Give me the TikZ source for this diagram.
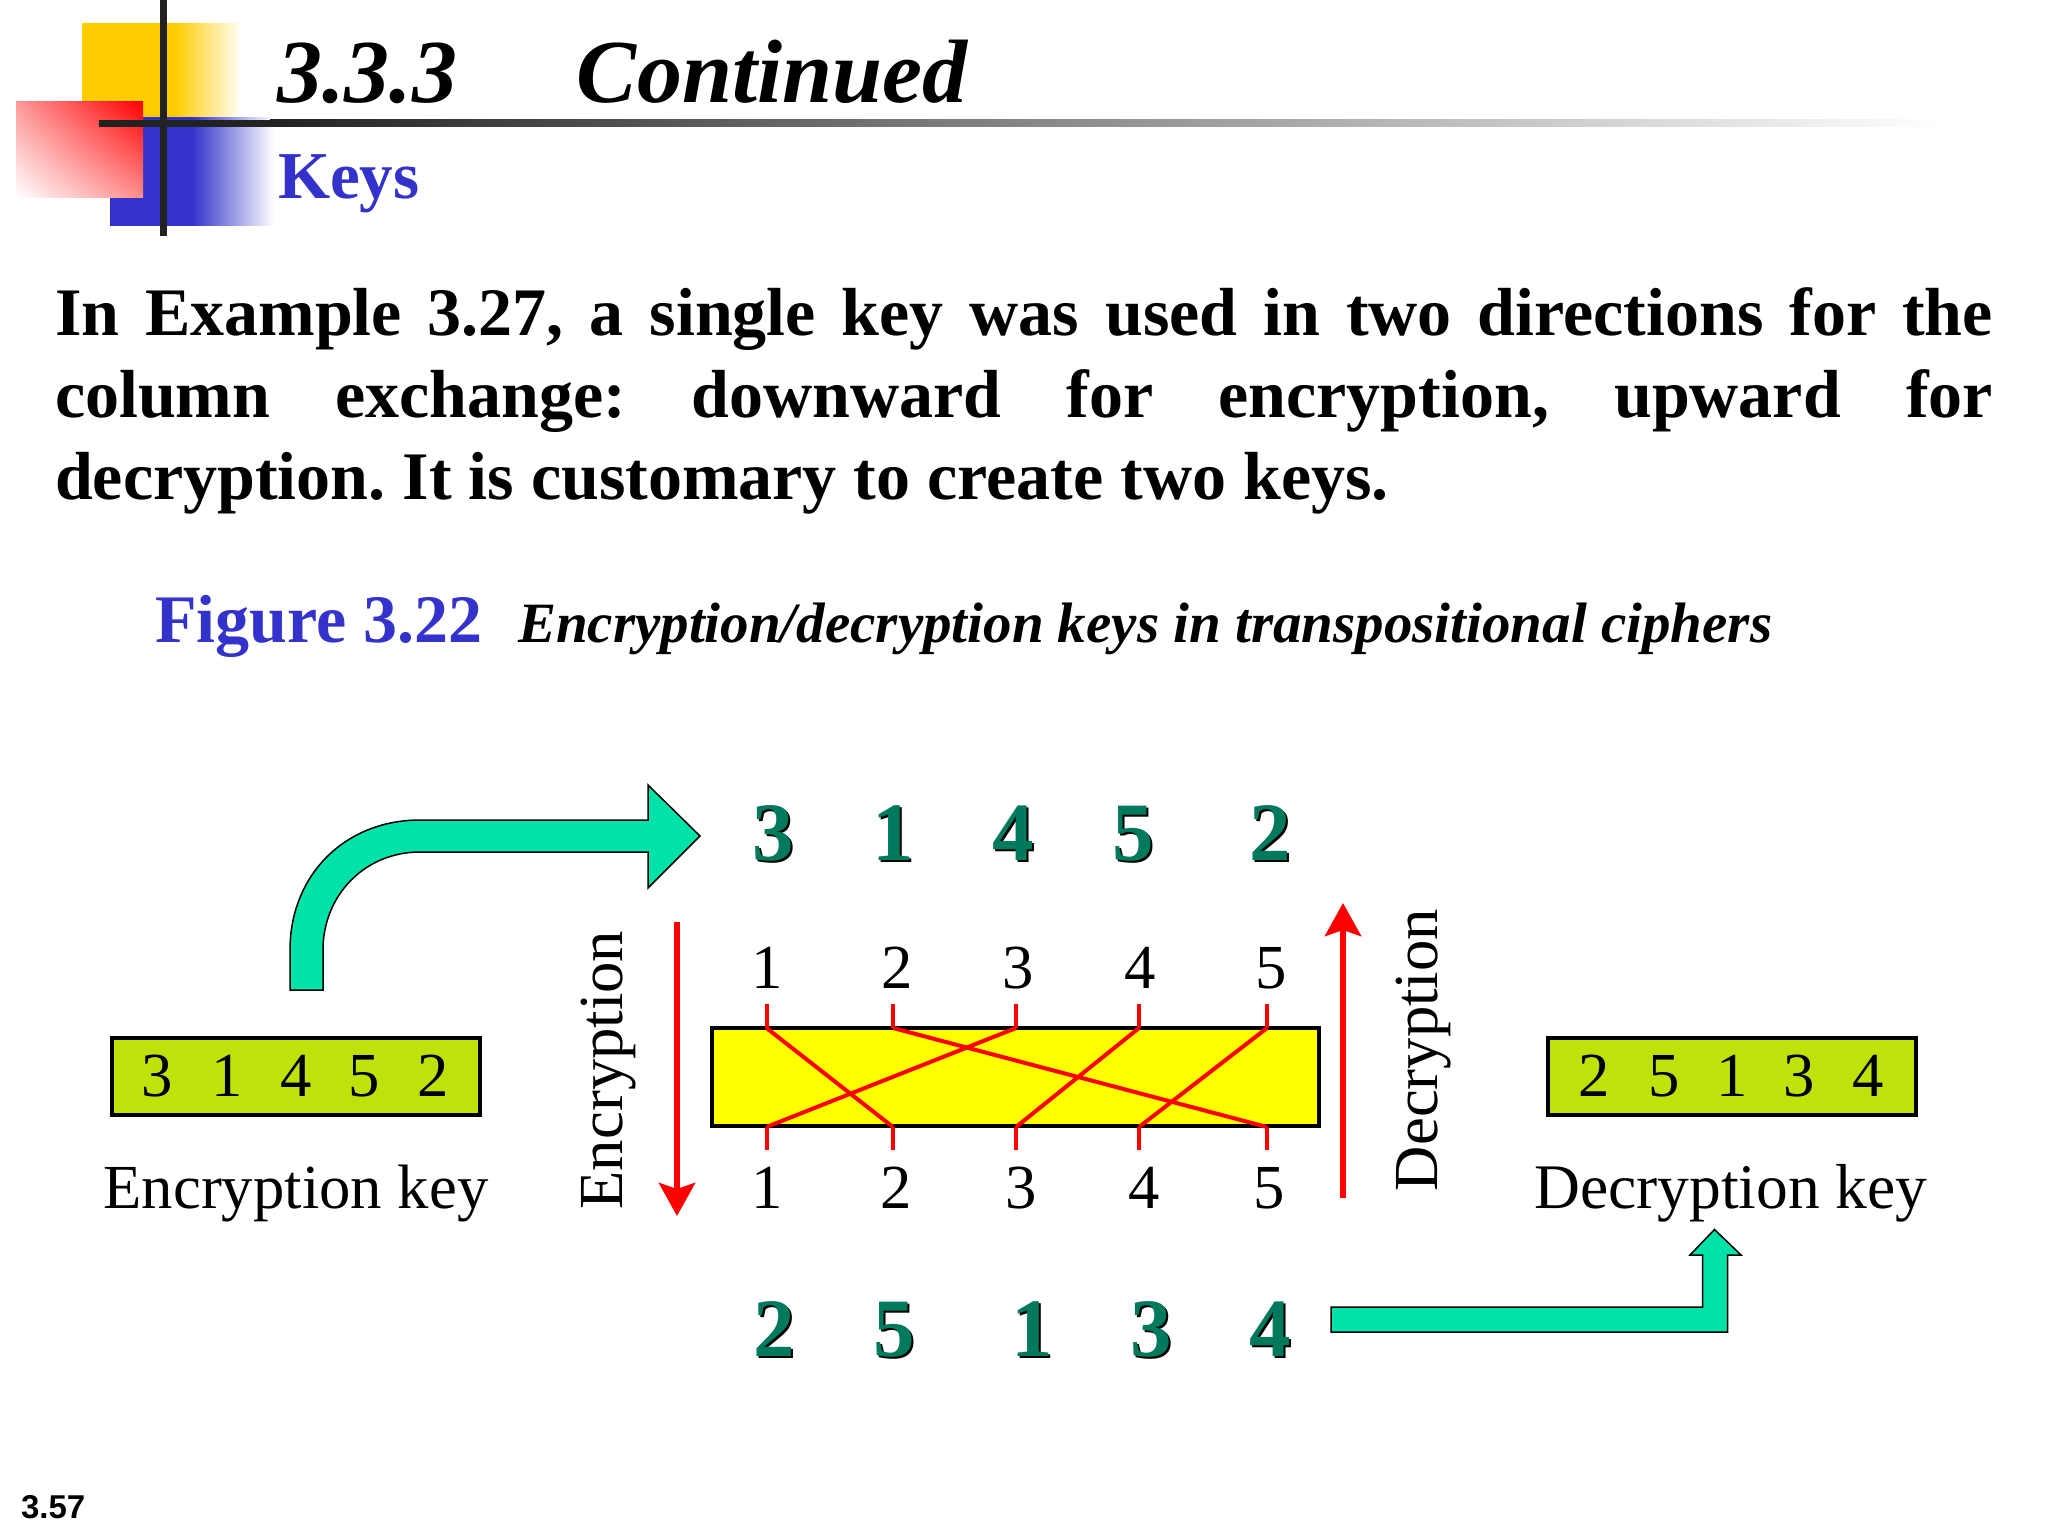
\documentclass[tikz,border=0pt]{standalone}
\usepackage{fontspec}
\setmainfont{Liberation Serif}
\setsansfont{Liberation Sans}
\usepackage{tikz}
\usetikzlibrary{arrows.meta,shadings}
\definecolor{titleblue}{HTML}{3333CC}
\definecolor{bargold}{HTML}{FFCC00}
\definecolor{barblack}{HTML}{222222}
\definecolor{keylime}{HTML}{BFE30A}
\definecolor{platefill}{HTML}{FFFF00}
\definecolor{keygreen}{HTML}{00795C}
\definecolor{bendgreen}{HTML}{00E3A8}
\pgfdeclarehorizontalshading{goldfade}{100bp}{color(0bp)=(bargold); color(54bp)=(bargold); color(75bp)=(white); color(100bp)=(white)}
\pgfdeclarehorizontalshading{bluefade}{100bp}{color(0bp)=(titleblue); color(50bp)=(titleblue); color(75bp)=(white); color(100bp)=(white)}
\newcommand\fsize[1]{\fontsize{#1}{1.281\dimexpr#1pt\relax}\selectfont}
\newcommand\shdigit[1]{\rlap{\kern2.5pt\raisebox{-2pt}{\color{black}#1}}#1}
\tikzset{
  every node/.style={inner sep=0pt,outer sep=0pt},
  plain/.style={anchor=base,font=\fsize{62.7}},
  bold/.style={anchor=base,font=\fsize{83}\bfseries,text=keygreen},
  keybox/.style={draw,line width=4pt,fill=keylime,minimum width=368pt,minimum height=77pt},
  wire/.style={red,line width=4pt},
  bendarrow/.style={draw=black,line width=1.5pt,fill=bendgreen,line join=miter},
  dirline/.style={red,line width=6pt,-{Stealth[length=33pt,width=36pt,inset=6pt]}}
}
\begin{document}
\begin{tikzpicture}[x=1pt,y=-1pt]
\fill[white] (0,0) rectangle (2048,1536);
\useasboundingbox (0,0) rectangle (2048,1536);
% corner squares
\shade[shading=goldfade] (82,24) rectangle (242,118);
\shade[shading=bluefade] (110,118) rectangle (274,225);
\shade[upper right=red,upper left=red!40,lower right=red!45,lower left=white] (16,102) rectangle (143,197);
\fill[barblack] (159.5,0) rectangle (166.5,236);
\fill[barblack] (99,120) rectangle (270,127);
\shade[left color=barblack,right color=white] (270,120) rectangle (1940,127);
% heading
\node[anchor=base west,font=\fsize{90}\bfseries\itshape] (title) at (277,103) {3.3.3\hspace{120pt}Continued};
\node[anchor=base west,font=\fsize{67}\bfseries,text=titleblue] (sub) at (278,198) {Keys};
\node[anchor=north west,text width=1938pt,align=justify,font={\fontsize{68}{82}\selectfont\bfseries}] (para) at (55,288)
  {\tolerance=10000\frenchspacing In Example 3.27, a single key was used in two directions for the\linebreak
   column exchange: downward for encryption, upward for\linebreak
   decryption. It is customary to create two keys.};
\node[anchor=base west,font=\fsize{68}\bfseries,text=titleblue] (fig) at (155,642) {Figure 3.22};
\node[anchor=base west,font=\fsize{57}\bfseries\itshape] (cap) at (518,642) {Encryption/decryption keys in transpositional ciphers};
\node[anchor=base west,font=\sffamily\bfseries\fsize{33}] (page) at (21,1518) {3.57};
% key boxes
\node[keybox] (enckey) at (296,1076.5) {};
\node[keybox] (deckey) at (1732,1076.5) {};
\foreach \n/\x/\d in {1/157.5/3,2/227.5/1,3/296/4,4/364/5,5/433/2}
  \node[plain] (ek\n) at (\x,1096) {\d};
\foreach \n/\x/\d in {1/1594/2,2/1664/5,3/1732.5/1,4/1799.5/3,5/1868/4}
  \node[plain] (dk\n) at (\x,1096) {\d};
\node[plain] (enclabel) at (296,1208) {Encryption key};
\node[plain,font=\fsize{63.5}] (declabel) at (1731,1208) {Decryption key};
% permutation box
\node[draw,line width=4pt,fill=platefill,anchor=north west,minimum width=607pt,minimum height=98pt] (plate) at (711.5,1028) {};
\foreach \n/\x in {1/766.5,2/893,3/1016,4/1139,5/1267} {
  \coordinate (t\n) at (\x,1028);
  \coordinate (b\n) at (\x,1127);
  \coordinate (u\n) at (\x,1004);
  \coordinate (d\n) at (\x,1150);
  \draw[wire] (u\n) -- (t\n);
  \draw[wire] (b\n) -- (d\n);
}
\foreach \i/\j in {1/2,2/5,3/1,4/3,5/4}
  \draw[wire] (t\i) -- (b\j);
\foreach \n/\x in {1/767,2/897,3/1018,4/1140,5/1271}
  \node[plain] (up\n) at (\x,988) {\n};
\foreach \n/\x in {1/767,2/896,3/1021,4/1144,5/1269}
  \node[plain] (dn\n) at (\x,1208) {\n};
% direction arrows
\node[plain,rotate=90] (enc) at (622,1070) {Encryption};
\node[plain,rotate=90] (dec) at (1437,1050) {Decryption};
\coordinate (encstart) at (677,922);
\coordinate (encend) at (677,1216);
\coordinate (decstart) at (1343,1198);
\coordinate (decend) at (1343,903);
\draw[dirline] (encstart) -- (encend);
\draw[dirline] (decstart) -- (decend);
% results
\foreach \n/\x/\d in {1/773/3,2/893/1,3/1013/4,4/1133/5,5/1270/2}
  \node[bold] (res\n) at (\x,860) {\shdigit{\d}};
\foreach \n/\x/\d in {1/774/2,2/894/5,3/1032/1,4/1151/3,5/1270/4}
  \node[bold] (inv\n) at (\x,1356) {\shdigit{\d}};
% bent arrows
\draw[bendarrow] (290,990) -- (290,950) .. controls (290,875) and (345,820) .. (420,820)
  -- (648,820) -- (648,785) -- (700,836) -- (648,888) -- (648,852) -- (420,852)
  .. controls (365,852) and (323,895) .. (323,950) -- (323,990) -- cycle;
\draw[bendarrow] (1331,1307) -- (1702.5,1307) -- (1702.5,1255) -- (1690,1255) -- (1714.5,1229.5)
  -- (1741,1255) -- (1727.5,1255) -- (1727.5,1332) -- (1331,1332) -- cycle;
\end{tikzpicture}
\end{document}
